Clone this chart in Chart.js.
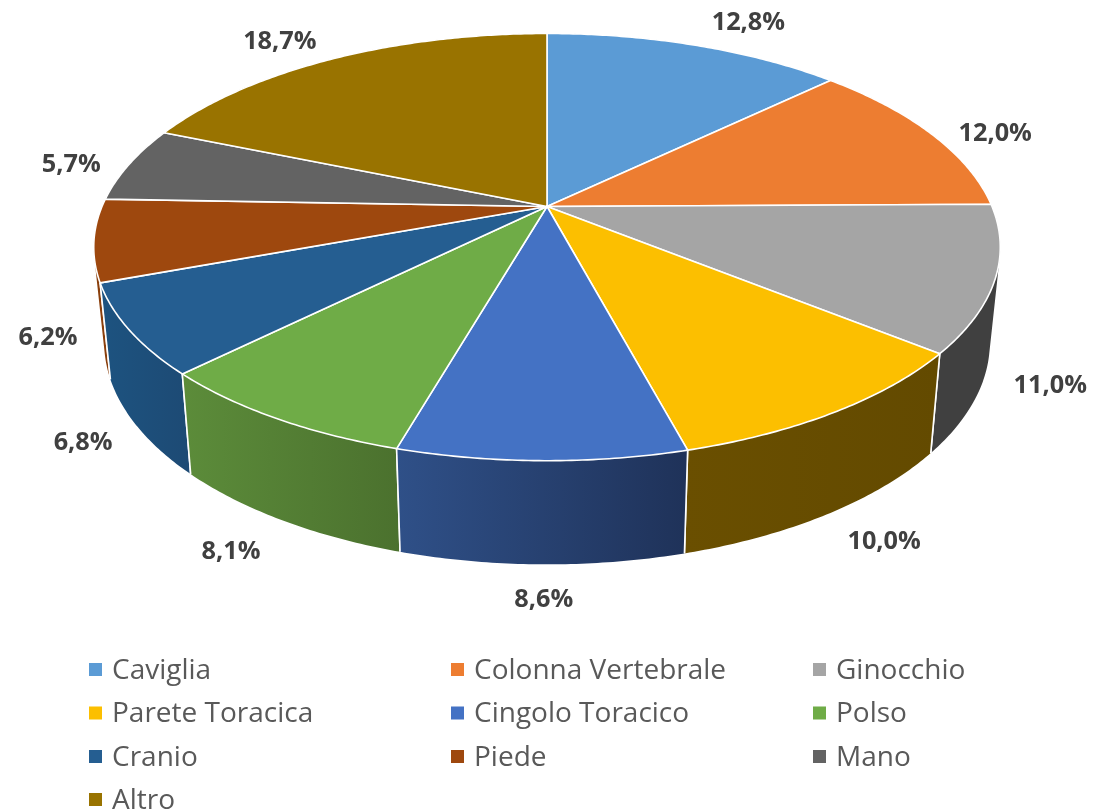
<!DOCTYPE html>
<html><head><meta charset="utf-8">
<style>html,body{margin:0;padding:0;background:#fff}canvas{display:block}</style>
<script src="https://cdn.jsdelivr.net/npm/chart.js@4/dist/chart.umd.min.js"></script>
</head><body><canvas id="c" width="1115" height="812"></canvas>
<script>
const categories = ['Caviglia','Colonna Vertebrale','Ginocchio','Parete Toracica','Cingolo Toracico','Polso','Cranio','Piede','Mano','Altro'];
const shares = [12.8,12.0,11.0,10.0,8.6,8.1,6.8,6.2,5.7,18.7];
const topColors = ['#5B9BD5','#ED7D31','#A5A5A5','#FCBF00','#4472C4','#6FAC47','#255E91','#9E480E','#636363','#997300'];
const wallLeft  = ['#3A6A98','#A85822','#404040','#6A4F00','#2F5088','#5C8C3A','#1D5380','#8A3F0C','#444444','#6A4F00'];
const wallRight = ['#3A6A98','#A85822','#404040','#634A00','#1F3259','#4B712E','#1D4A74','#8A3F0C','#444444','#6A4F00'];
const labelNudge = [[53,-22],[64,0],[55,107],[49,130],[2,139],[-45,133],[-46,113],[-46,98],[-58,1],[-54,-17]];

const CX = 547, CY = 206.5, RX = 445, RY = 205.9, PERSP = 0.19;
const project = (a, lift) => {
  const u = Math.sin(a), v = -Math.cos(a), w = 1 - PERSP * v;
  const x = CX + RX * u / w, y = CY + RY * v / w;
  return lift ? [CX + (x - CX) * 0.977, 300 + 1.04 * (y - CY)] : [x, y];
};
const angleOf = t => t + Math.PI / 2;
const rim = (a0, a1) => {
  const n = Math.max(2, Math.ceil((a1 - a0) / 0.01)), out = [];
  for (let i = 0; i <= n; i++) out.push(a0 + (a1 - a0) * i / n);
  return out;
};
const quadPath = (ctx, q) => {
  let area = 0;
  q.forEach((p, k) => { const r = q[(k + 1) % 4]; area += p[0] * r[1] - r[0] * p[1]; });
  const s = area < 0 ? q.slice().reverse() : q;
  s.forEach((p, k) => k ? ctx.lineTo(p[0], p[1]) : ctx.moveTo(p[0], p[1]));
  ctx.closePath();
};

const pie3d = {
  id: 'pie3d',
  beforeDatasetDraw(chart) {
    const ctx = chart.ctx, arcs = chart.getDatasetMeta(0).data;
    const order = arcs.map((el, i) => i).sort((p, q) => {
      const m = el => -Math.cos(angleOf((el.startAngle + el.endAngle) / 2));
      return m(arcs[p]) - m(arcs[q]);
    });
    ctx.save();
    ctx.lineJoin = 'round';
    ctx.strokeStyle = '#fff';
    for (const i of order) {
      const a0 = angleOf(arcs[i].startAngle), a1 = angleOf(arcs[i].endAngle), pts = rim(a0, a1);
      const top = pts.map(a => project(a, false)), bot = pts.map(a => project(a, true));
      const xs = top.concat(bot).map(p => p[0]);
      const g = ctx.createLinearGradient(Math.min(...xs), 0, Math.max(...xs), 0);
      g.addColorStop(0, wallLeft[i]); g.addColorStop(1, wallRight[i]);
      ctx.beginPath();
      for (let k = 0; k < pts.length - 1; k++) quadPath(ctx, [top[k], top[k + 1], bot[k + 1], bot[k]]);
      ctx.fillStyle = g; ctx.fill('nonzero');
      ctx.lineWidth = 1.6;
      for (const a of [a0, a1]) {
        if (Math.cos(a) > 0.0) continue;
        const p = project(a, false), q = project(a, true);
        ctx.beginPath(); ctx.moveTo(p[0], p[1]); ctx.lineTo(q[0], q[1]); ctx.stroke();
      }
    }
    arcs.forEach((el, i) => {
      const pts = rim(angleOf(el.startAngle), angleOf(el.endAngle));
      ctx.beginPath(); ctx.moveTo(CX, CY);
      pts.forEach(a => { const p = project(a, false); ctx.lineTo(p[0], p[1]); });
      ctx.closePath();
      ctx.fillStyle = topColors[i]; ctx.fill();
      ctx.lineWidth = 1.6; ctx.stroke();
    });
    ctx.restore();
    return false;
  },
  afterDraw(chart) {
    const ctx = chart.ctx, arcs = chart.getDatasetMeta(0).data;
    ctx.save();
    ctx.textBaseline = 'middle';
    ctx.font = 'bold 25.3px "Open Sans"';
    ctx.fillStyle = '#404040';
    ctx.textAlign = 'center';
    arcs.forEach((el, i) => {
      const p = project(angleOf((el.startAngle + el.endAngle) / 2), false);
      ctx.fillText(shares[i].toFixed(1).replace('.', ',') + '%', p[0] + labelNudge[i][0], p[1] + labelNudge[i][1]);
    });
    ctx.textAlign = 'left';
    ctx.font = '28px "Open Sans"';
    const colX = [89, 451, 813], rowY = [669.5, 713, 756.5, 799.5];
    categories.forEach((name, i) => {
      const x = colX[i % 3], y = rowY[Math.floor(i / 3)];
      ctx.fillStyle = topColors[i];
      ctx.fillRect(x, y - 6.5, 13, 13);
      ctx.fillStyle = '#595959';
      ctx.fillText(name, x + 23, y + 1.5);
    });
    ctx.restore();
  }
};

new Chart(document.getElementById('c'), {
  type: 'pie',
  data: { labels: categories, datasets: [{ data: shares, backgroundColor: topColors }] },
  options: {
    responsive: false, animation: false,
    plugins: { legend: { display: false }, tooltip: { enabled: false } }
  },
  plugins: [pie3d]
});
</script></body></html>
